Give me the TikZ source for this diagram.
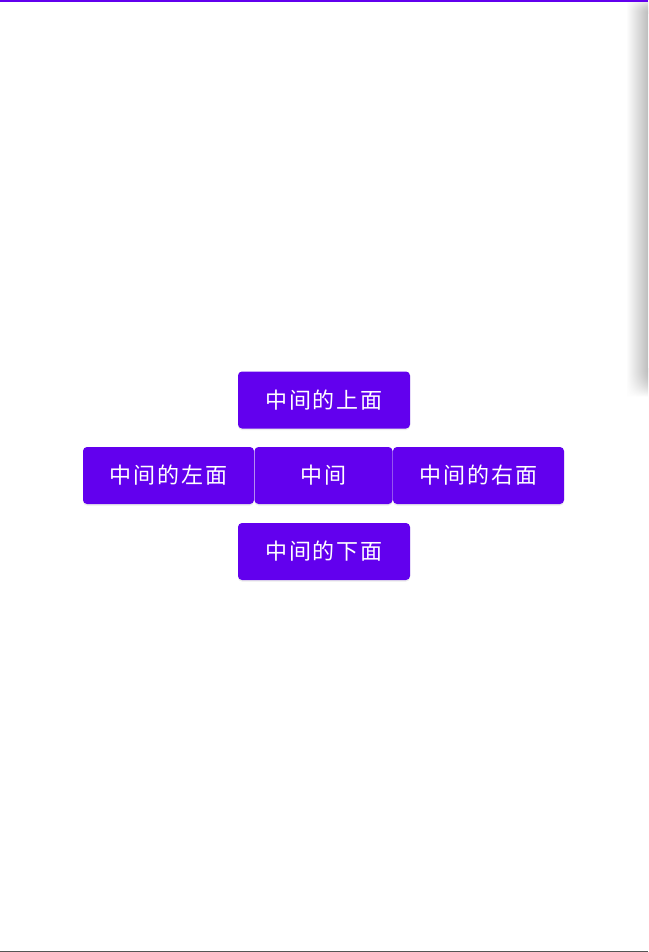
\documentclass[tikz,border=0pt]{standalone}
\usepackage{fontspec}
\newfontfamily\cjk[LetterSpace=9]{Noto Sans CJK SC}
\usetikzlibrary{shadows}
\definecolor{btn}{HTML}{6200EE}
\definecolor{edge}{HTML}{555555}
\tikzset{
  btnbox/.style={fill=btn, rounded corners=4pt, text=white, font=\cjk\fontsize{22pt}{26pt}\selectfont,
    minimum height=57pt, inner sep=0pt, anchor=center,
    drop shadow={opacity=0.15, shadow xshift=0pt, shadow yshift=-1.5pt}},
  edgeshade/.style={left color=white, right color=black!26},
}
\begin{document}
\begin{tikzpicture}[x=1pt,y=-1pt]
\useasboundingbox (0,0) rectangle (648,952);
\fill[white] (0,0) rectangle (648,952);
% right edge shadow
\shade[edgeshade] (626,14) rectangle (648,368);
\foreach \i in {0,...,13} {
  \pgfmathsetmacro\op{(\i+1)/15}
  \shade[edgeshade, opacity=\op] (626,\i) rectangle (648,\i+1);
}
\foreach \i in {0,...,27} {
  \pgfmathsetmacro\op{1-(\i+1)/29}
  \shade[edgeshade, opacity=\op] (626,368+\i) rectangle (648,369+\i);
}
% top and bottom lines
\fill[btn] (0,0) rectangle (648,2);
\fill[edge] (0,950.8) rectangle (648,952);
% buttons
\node[btnbox, minimum width=172pt] (top) at (324,400) {中间的上面};
\node[btnbox, minimum width=171pt] (left) at (168.5,475.5) {中间的左面};
\node[btnbox, minimum width=138pt] (mid) at (323.5,475.5) {中间};
\node[btnbox, minimum width=171pt] (right) at (478.5,475.5) {中间的右面};
\node[btnbox, minimum width=172pt] (bottom) at (324,551.5) {中间的下面};
\end{tikzpicture}
\end{document}
